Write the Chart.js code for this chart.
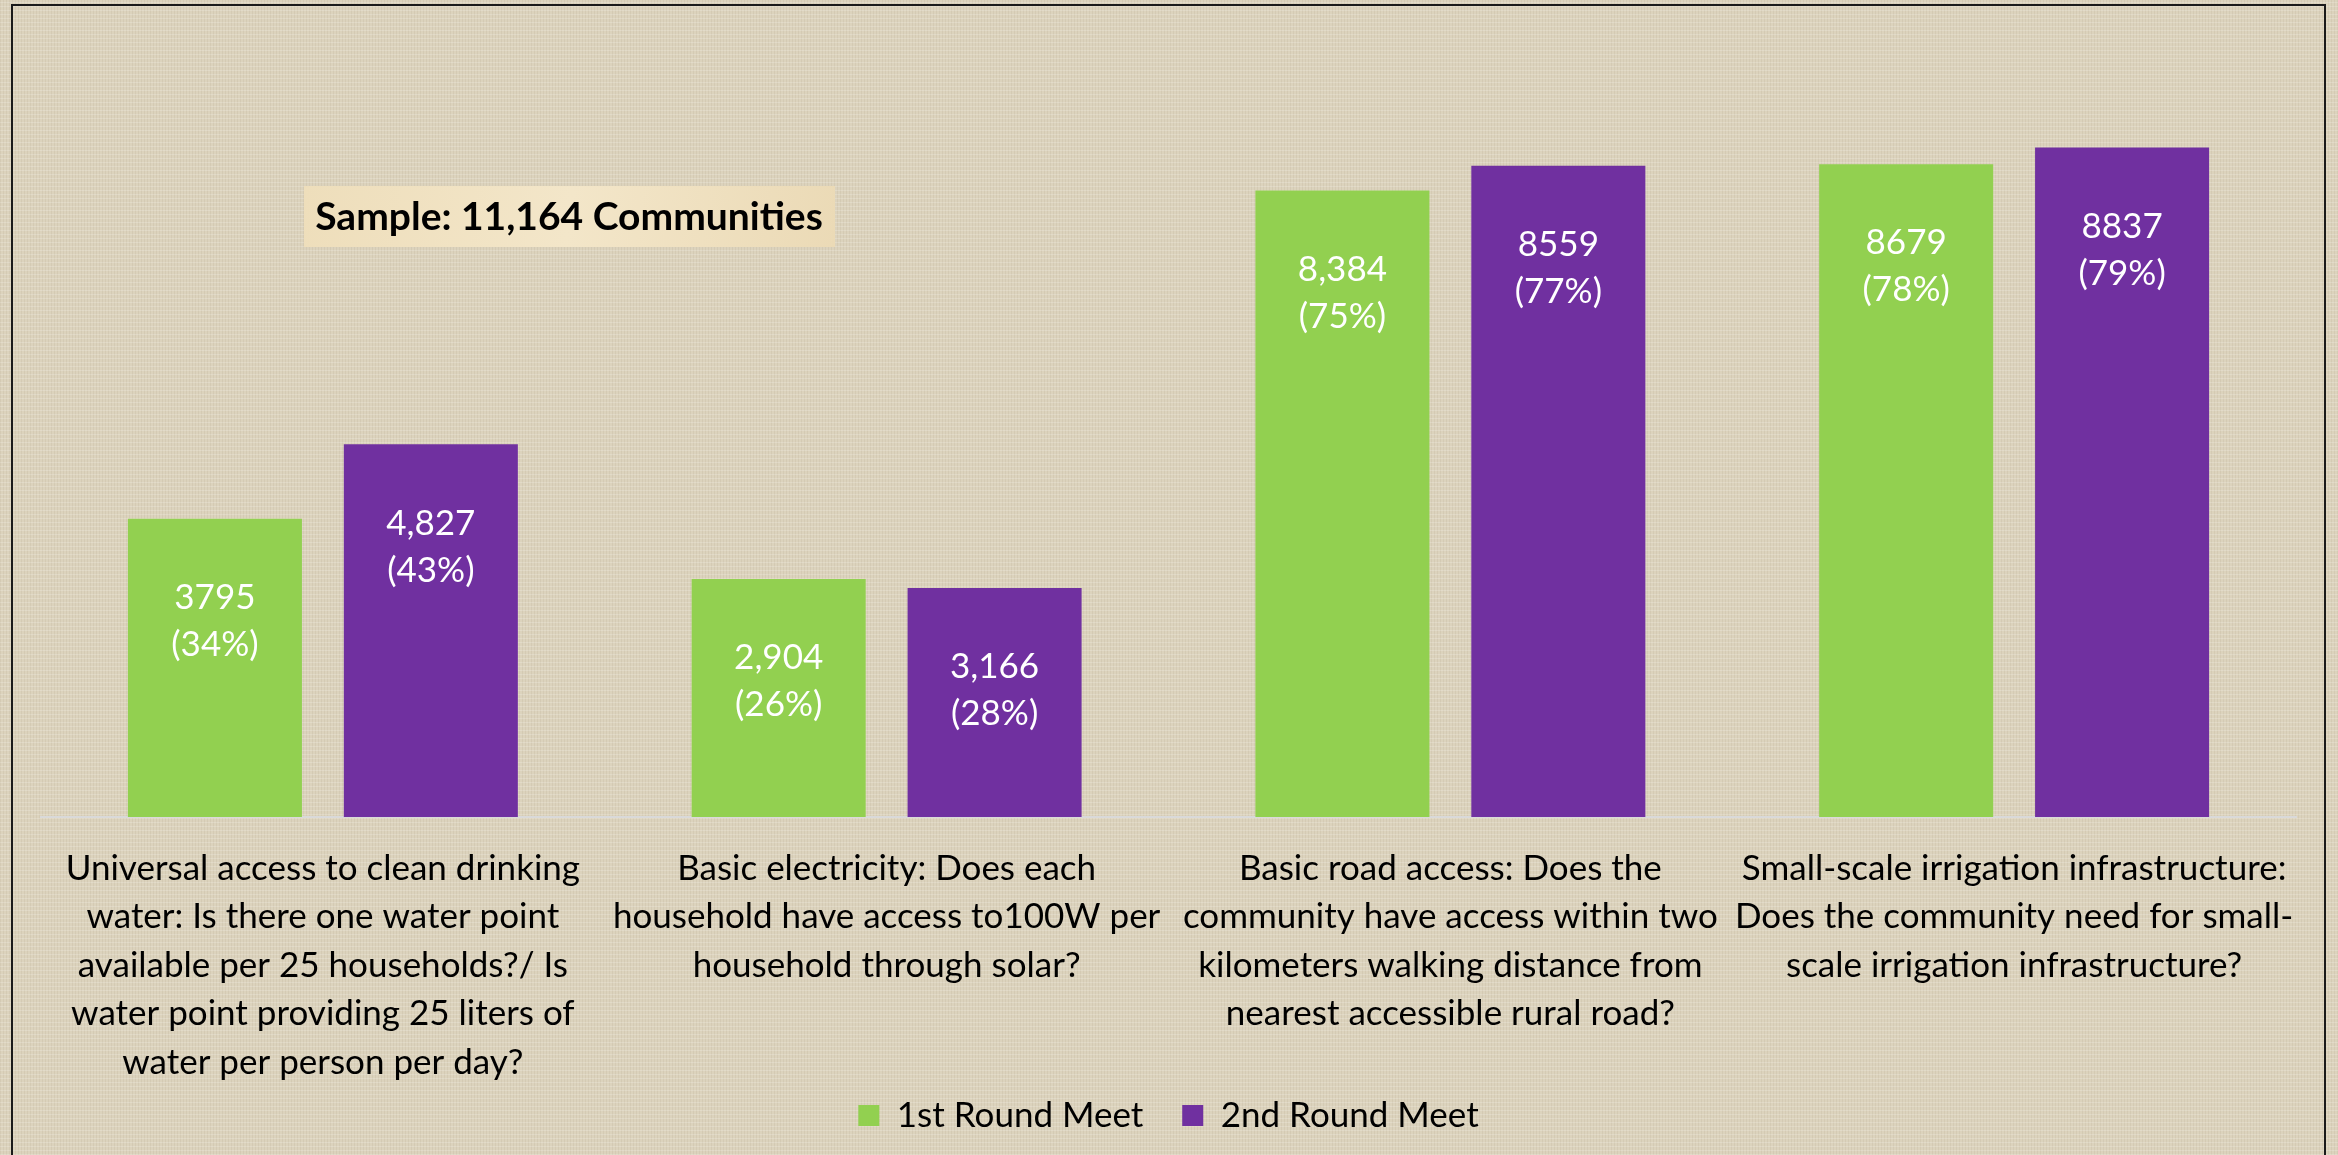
<!DOCTYPE html>
<html>
<head>
<meta charset="utf-8">
<script src="https://cdn.jsdelivr.net/npm/chart.js@4.4.1/dist/chart.umd.min.js"></script>
<style>
  html, body { margin: 0; padding: 0; }
  body {
    width: 2338px; height: 1155px; overflow: hidden;
    background-color: #dcd3bd;
    background-image:
      repeating-linear-gradient(0deg, rgba(255,255,255,0.18) 0px, rgba(255,255,255,0.18) 1px, transparent 1px, transparent 4px),
      repeating-linear-gradient(90deg, rgba(120,100,70,0.08) 0px, rgba(120,100,70,0.08) 1px, transparent 1px, transparent 3px);
  }
  canvas { display: block; }
</style>
</head>
<body>
<canvas id="chart" width="2338" height="1155"></canvas>
<script>
// category labels, already broken into lines like the original
const categories = [
  ['Universal access to clean drinking', 'water: Is there one water point', 'available per 25 households?/ Is', 'water point providing 25 liters of', 'water per person per day?'],
  ['Basic electricity: Does each', 'household have access to100W per', 'household through solar?'],
  ['Basic road access: Does the', 'community have access within two', 'kilometers walking distance from', 'nearest accessible rural road?'],
  ['Small-scale irrigation infrastructure:', 'Does the community need for small-', 'scale irrigation infrastructure?']
];

const seriesNames = ['1st Round Meet', '2nd Round Meet'];

// bar heights as drawn (communities)
const round1Values = [3960, 3160, 8320, 8670];
const round2Values = [4950, 3040, 8650, 8890];

// text printed inside the bars
const round1Counts = ['3795', '2,904', '8,384', '8679'];
const round1Shares = ['(34%)', '(26%)', '(75%)', '(78%)'];
const round2Counts = ['4,827', '3,166', '8559', '8837'];
const round2Shares = ['(43%)', '(28%)', '(77%)', '(79%)'];

const sampleNote = 'Sample: 11,164 Communities';

const FONT = 'Lato, "Open Sans", sans-serif';

const barLabels = {
  id: 'barLabels',
  afterDatasetsDraw(chart) {
    const ctx = chart.ctx;
    const texts = [[round1Counts, round1Shares], [round2Counts, round2Shares]];
    ctx.save();
    ctx.fillStyle = '#ffffff';
    ctx.font = '35px ' + FONT;
    ctx.textAlign = 'center';
    ctx.textBaseline = 'middle';
    chart.data.datasets.forEach(function(ds, di) {
      chart.getDatasetMeta(di).data.forEach(function(bar, i) {
        ctx.fillText(texts[di][0][i], bar.x, bar.y + 79);
        ctx.fillText(texts[di][1][i], bar.x, bar.y + 126);
      });
    });
    ctx.restore();
  }
};

const frameAndNote = {
  id: 'frameAndNote',
  afterDraw(chart) {
    const ctx = chart.ctx;
    ctx.save();
    // outer frame
    ctx.strokeStyle = '#1a1a1a';
    ctx.lineWidth = 2;
    ctx.strokeRect(12, 5, 2313, 1200);
    // sample note box
    var g = ctx.createLinearGradient(304, 186, 835, 247);
    g.addColorStop(0, '#eedebb');
    g.addColorStop(0.5, '#f3e6c9');
    g.addColorStop(1, '#ebdab6');
    ctx.fillStyle = g;
    ctx.fillRect(304, 186, 531, 61);
    ctx.fillStyle = '#000000';
    ctx.font = 'bold 39px ' + FONT;
    ctx.textAlign = 'center';
    ctx.textBaseline = 'middle';
    ctx.fillText(sampleNote, 569, 217);
    ctx.restore();
  }
};

const ctx = document.getElementById('chart').getContext('2d');

new Chart(ctx, {
  type: 'bar',
  data: {
    labels: categories,
    datasets: [{
      label: seriesNames[0],
      data: round1Values,
      backgroundColor: '#92d050',
      categoryPercentage: 0.766,
      barPercentage: 0.806
    }, {
      label: seriesNames[1],
      data: round2Values,
      backgroundColor: '#7030a0',
      categoryPercentage: 0.766,
      barPercentage: 0.806
    }]
  },
  options: {
    responsive: false,
    animation: false,
    devicePixelRatio: 1,
    layout: {
      padding: { left: 41, right: 42, top: 64, bottom: 12 }
    },
    plugins: {
      tooltip: { enabled: false },
      legend: {
        position: 'bottom',
        labels: {
          boxWidth: 21,
          boxHeight: 21,
          padding: 12,
          color: '#000000',
          font: { family: FONT, size: 35 },
          generateLabels: function(chart) {
            var items = Chart.defaults.plugins.legend.labels.generateLabels(chart);
            // wider gap between the two entries
            items[0].text = items[0].text + '   ';
            return items;
          }
        }
      }
    },
    scales: {
      x: {
        grid: { display: false, drawTicks: false },
        border: { display: true, color: '#d9d9d9', width: 2 },
        ticks: {
          color: '#000000',
          font: { family: FONT, size: 35, lineHeight: 1.386 },
          padding: 27,
          maxRotation: 0,
          autoSkip: false
        },
        afterFit: function(scale) { scale.height = 269; }
      },
      y: {
        display: false,
        min: 0,
        max: 10000
      }
    }
  },
  plugins: [barLabels, frameAndNote]
});
</script>
</body>
</html>
